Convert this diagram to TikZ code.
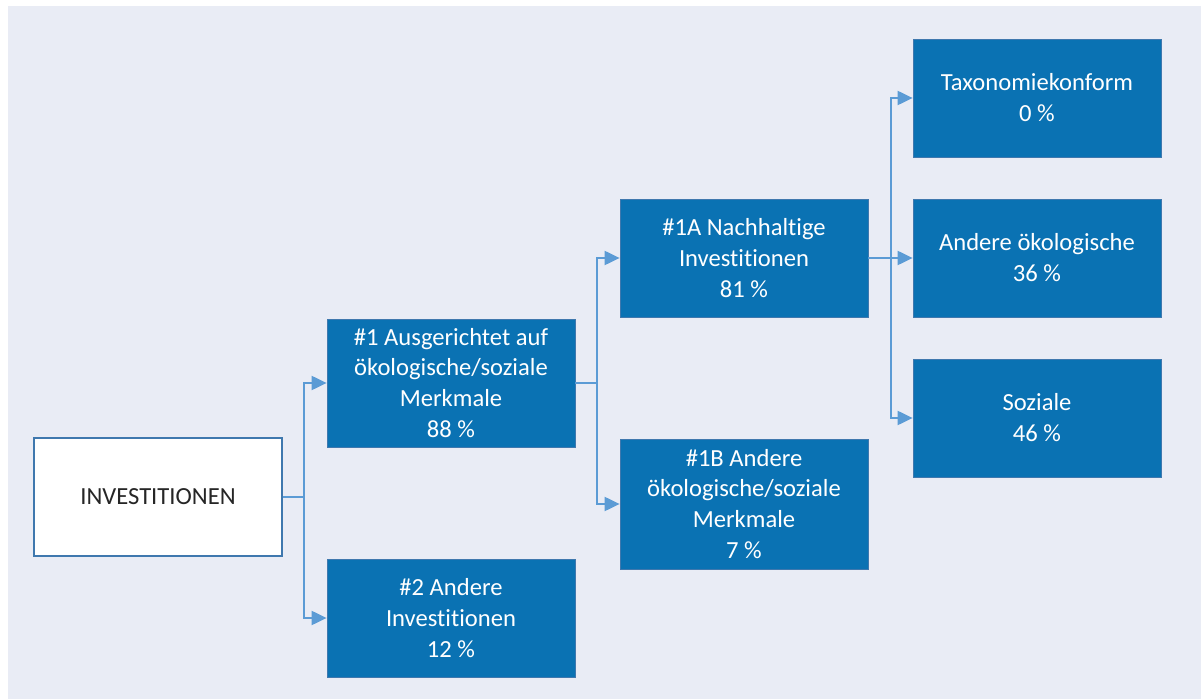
\documentclass[tikz,border=0pt]{standalone}
\usepackage{fontspec}
\setmainfont{Carlito}[Ligatures=NoCommon]
\usepackage{tikz}
\usetikzlibrary{arrows.meta}
\definecolor{boxblue}{HTML}{0A72B3}
\definecolor{boxedge}{HTML}{3F78AE}
\definecolor{linkblue}{HTML}{5B9BD5}
\definecolor{panel}{HTML}{E9ECF5}

\begin{document}
\begin{tikzpicture}[x=0.02cm,y=-0.02cm,
  font=\fontsize{14}{17.6}\selectfont,
  b/.style={draw=boxedge,line width=0.6pt,fill=white,text=black!85,minimum width=4.96cm,minimum height=2.36cm,inner sep=0pt,align=center},
  h/.style={draw=boxedge,line width=0.5pt,fill=boxblue,text=white,minimum width=4.96cm,minimum height=2.36cm,inner sep=0pt,align=center},
  link/.style={draw=linkblue,line width=1pt},
  arr/.style={link,-{Triangle[length=8.5pt,width=8pt]}}]
\fill[white] (0,0) rectangle (1201,699);
\fill[panel] (8,6) rectangle (1201,699);
% boxes
\node[b] (inv) at (158,497) {INVESTITIONEN};
\node[h,minimum height=2.56cm] (a1) at (451,383) {\#1 Ausgerichtet auf\\ökologische/soziale\\Merkmale\\88 \%};
\node[h] (a2) at (451,618) {\#2 Andere\\Investitionen\\12 \%};
\node[h] (n1a) at (744,258) {\#1A Nachhaltige\\Investitionen\\81 \%};
\node[h,minimum height=2.6cm] (n1b) at (744,504) {\#1B Andere\\ökologische/soziale\\Merkmale\\7 \%};
\node[h] (tax) at (1037,98) {Taxonomiekonform\\0 \%};
\node[h] (oek) at (1037,258) {Andere ökologische\\36 \%};
\node[h] (soz) at (1037,418) {Soziale\\46 \%};
% connectors
\coordinate (j1) at (304,497);
\coordinate (j2) at (597,383);
\coordinate (j3) at (891,258);
\draw[link] (inv) -- (j1);
\draw[arr] (j1) |- (a1);
\draw[arr] (j1) |- (a2);
\draw[link] (a1) -- (j2);
\draw[arr] (j2) |- (n1a);
\draw[arr] (j2) |- (n1b);
\draw[link] (n1a) -- (j3);
\draw[arr] (j3) |- (tax);
\draw[arr] (j3) -- (oek);
\draw[arr] (j3) |- (soz);
\end{tikzpicture}
\end{document}
